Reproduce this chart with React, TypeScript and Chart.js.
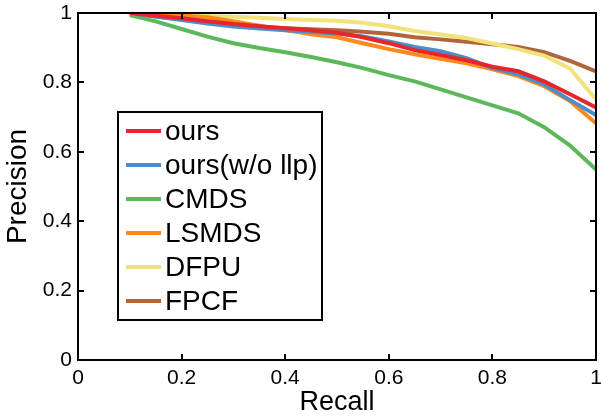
import React, { useEffect, useRef } from "react";
import { Chart, registerables } from "chart.js";

Chart.register(...registerables);

const recall = [0.1, 0.15, 0.2, 0.25, 0.3, 0.35, 0.4, 0.45, 0.5, 0.55, 0.6, 0.65, 0.7, 0.75, 0.8, 0.85, 0.9, 0.95, 1.0];

const ours = [1.0, 0.992, 0.985, 0.976, 0.968, 0.962, 0.956, 0.95, 0.943, 0.93, 0.913, 0.893, 0.879, 0.864, 0.845, 0.832, 0.803, 0.766, 0.728];
const oursNoLlp = [1.0, 0.99, 0.98, 0.97, 0.961, 0.955, 0.95, 0.946, 0.941, 0.932, 0.918, 0.902, 0.89, 0.87, 0.841, 0.823, 0.794, 0.749, 0.706];
const cmds = [0.994, 0.976, 0.954, 0.932, 0.913, 0.899, 0.887, 0.873, 0.858, 0.841, 0.821, 0.803, 0.78, 0.757, 0.734, 0.711, 0.671, 0.618, 0.549];
const lsmds = [1.0, 0.997, 0.993, 0.988, 0.976, 0.963, 0.951, 0.939, 0.93, 0.913, 0.896, 0.881, 0.868, 0.855, 0.838, 0.818, 0.789, 0.746, 0.682];
const dfpu = [1.0, 0.998, 0.995, 0.992, 0.989, 0.986, 0.983, 0.98, 0.978, 0.972, 0.962, 0.948, 0.938, 0.928, 0.912, 0.896, 0.877, 0.84, 0.751];
const fpcf = [1.0, 0.99, 0.983, 0.975, 0.966, 0.96, 0.956, 0.953, 0.95, 0.946, 0.94, 0.93, 0.924, 0.917, 0.91, 0.902, 0.887, 0.862, 0.832];

const seriesNames = ["ours", "ours(w/o llp)", "CMDS", "LSMDS", "DFPU", "FPCF"];
const seriesValues = [ours, oursNoLlp, cmds, lsmds, dfpu, fpcf];
const seriesColors = ["#e6262b", "#4a8fca", "#5cb85a", "#ff8a1c", "#f2e27a", "#b0663c"];

const xTickValues = [0, 0.2, 0.4, 0.6, 0.8, 1];
const xTickLabels = ["0", "0.2", "0.4", "0.6", "0.8", "1"];
const yTickValues = [0, 0.2, 0.4, 0.6, 0.8, 1];
const yTickLabels = ["0", "0.2", "0.4", "0.6", "0.8", "1"];

const xTitle = "Recall";
const yTitle = "Precision";

const FONT = "'Liberation Sans', Arial, Helvetica, sans-serif";

const framePlugin = {
  id: "frameAndLegend",
  afterDraw(chart: any) {
    const { ctx, chartArea: a, scales } = chart;
    ctx.save();
    ctx.strokeStyle = "#000";
    ctx.lineWidth = 2;
    ctx.strokeRect(a.left, a.top, a.right - a.left, a.bottom - a.top);
    const tl = 6;
    ctx.beginPath();
    for (const v of xTickValues) {
      const px = Math.round(scales.x.getPixelForValue(v));
      ctx.moveTo(px, a.bottom);
      ctx.lineTo(px, a.bottom - tl);
      ctx.moveTo(px, a.top);
      ctx.lineTo(px, a.top + tl);
    }
    for (const v of yTickValues) {
      const py = Math.round(scales.y.getPixelForValue(v));
      ctx.moveTo(a.left, py);
      ctx.lineTo(a.left + tl, py);
      ctx.moveTo(a.right, py);
      ctx.lineTo(a.right - tl, py);
    }
    ctx.stroke();

    // legend box
    const bx = 118, by = 112, bw = 204, bh = 208;
    ctx.fillStyle = "#fff";
    ctx.fillRect(bx, by, bw, bh);
    ctx.lineWidth = 2;
    ctx.strokeStyle = "#000";
    ctx.strokeRect(bx, by, bw, bh);
    ctx.font = `28px ${FONT}`;
    ctx.textBaseline = "middle";
    ctx.textAlign = "left";
    chart.data.datasets.forEach((ds: any, i: number) => {
      const y = by + 19 + i * 34;
      ctx.strokeStyle = ds.borderColor;
      ctx.lineWidth = 4;
      ctx.beginPath();
      ctx.moveTo(126, y);
      ctx.lineTo(161, y);
      ctx.stroke();
      ctx.fillStyle = "#000";
      ctx.fillText(ds.label, 165, y + 1);
    });
    ctx.restore();
  },
};

const zeroPad = (s: any) => {
  s.paddingLeft = 0;
  s.paddingRight = 0;
  s.paddingTop = 0;
  s.paddingBottom = 0;
};

export default function App() {
  const ref = useRef<HTMLCanvasElement | null>(null);

  useEffect(() => {
    if (!ref.current) return;
    const datasets = seriesNames.map((name, i) => ({
      label: name,
      data: recall.map((r, j) => ({ x: r, y: seriesValues[i][j] })),
      borderColor: seriesColors[i],
      backgroundColor: seriesColors[i],
      borderWidth: 4,
      pointRadius: 0,
      tension: 0,
      fill: false,
    }));
    const chart = new Chart(ref.current, {
      type: "line",
      data: { datasets },
      plugins: [framePlugin],
      options: {
        animation: false,
        responsive: false,
        layout: { padding: { top: 13, right: 5, left: 0, bottom: 0 } },
        plugins: { legend: { display: false }, tooltip: { enabled: false } },
        scales: {
          x: {
            type: "linear",
            min: 0,
            max: 1,
            afterBuildTicks: (s: any) => {
              s.ticks = xTickValues.map((v) => ({ value: v }));
            },
            afterFit: (s: any) => {
              s.height = 56;
              zeroPad(s);
            },
            grid: { display: false, drawTicks: false },
            border: { display: false },
            ticks: {
              color: "#000",
              font: { family: FONT, size: 21 },
              padding: 6,
              maxRotation: 0,
              autoSkip: false,
              callback: (v: any) => {
                const idx = xTickValues.findIndex((t) => Math.abs(t - Number(v)) < 1e-9);
                return idx >= 0 ? xTickLabels[idx] : "";
              },
            },
            title: {
              display: true,
              text: xTitle,
              color: "#000",
              font: { family: FONT, size: 27, lineHeight: 1 },
              padding: { top: 0, bottom: 0 },
            },
          },
          y: {
            type: "linear",
            min: 0,
            max: 1,
            afterBuildTicks: (s: any) => {
              s.ticks = yTickValues.map((v) => ({ value: v }));
            },
            afterFit: (s: any) => {
              s.width = 78;
              zeroPad(s);
            },
            grid: { display: false, drawTicks: false },
            border: { display: false },
            ticks: {
              color: "#000",
              font: { family: FONT, size: 21 },
              padding: 6,
              autoSkip: false,
              callback: (v: any) => {
                const idx = yTickValues.findIndex((t) => Math.abs(t - Number(v)) < 1e-9);
                return idx >= 0 ? yTickLabels[idx] : "";
              },
            },
            title: {
              display: true,
              text: yTitle,
              color: "#000",
              font: { family: FONT, size: 28, lineHeight: 1 },
              padding: { top: 4, bottom: 0 },
            },
          },
        },
      } as any,
    });
    return () => chart.destroy();
  }, []);

  return (
    <div style={{ position: "fixed", left: 0, top: 0, width: 601, height: 416, background: "#fff" }}>
      <canvas ref={ref} width={601} height={416} style={{ width: 601, height: 416, display: "block" }} />
    </div>
  );
}
